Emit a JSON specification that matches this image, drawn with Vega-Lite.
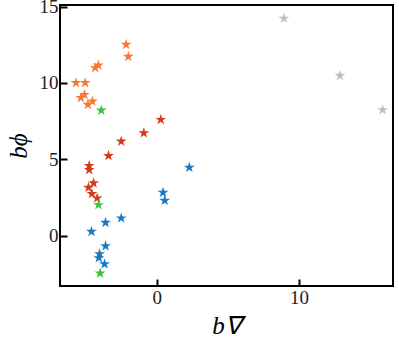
{
  "$schema": "https://vega.github.io/schema/vega-lite/v6.json",
  "width": 333,
  "height": 281,
  "autosize": {"type": "none"},
  "padding": {"left": 60, "top": 5, "right": 6, "bottom": 58},
  "background": "white",
  "config": {
    "view": {"stroke": "black", "strokeWidth": 2},
    "axis": {
      "grid": false,
      "domain": false,
      "labelFont": "Liberation Serif",
      "labelFontSize": 19,
      "labelColor": "#222",
      "titleFont": "Liberation Serif",
      "titleFontSize": 25,
      "titleFontStyle": "italic",
      "titleFontWeight": "normal",
      "titleColor": "black"
    }
  },
  "data": {
    "values": [
      {"x": -2.15, "y": 12.51, "g": "orange"},
      {"x": -2.0, "y": 11.72, "g": "orange"},
      {"x": -4.33, "y": 10.98, "g": "orange"},
      {"x": -4.1, "y": 11.15, "g": "orange"},
      {"x": -5.68, "y": 10.0, "g": "orange"},
      {"x": -5.03, "y": 10.0, "g": "orange"},
      {"x": -5.33, "y": 9.02, "g": "orange"},
      {"x": -5.08, "y": 9.23, "g": "orange"},
      {"x": -4.84, "y": 8.58, "g": "orange"},
      {"x": -4.52, "y": 8.79, "g": "orange"},
      {"x": 0.28, "y": 7.59, "g": "red"},
      {"x": -0.91, "y": 6.72, "g": "red"},
      {"x": -2.5, "y": 6.17, "g": "red"},
      {"x": -3.39, "y": 5.23, "g": "red"},
      {"x": -4.75, "y": 4.57, "g": "red"},
      {"x": -4.75, "y": 4.31, "g": "red"},
      {"x": -4.44, "y": 3.44, "g": "red"},
      {"x": -4.8, "y": 3.15, "g": "red"},
      {"x": -4.56, "y": 2.74, "g": "red"},
      {"x": -4.19, "y": 2.45, "g": "red"},
      {"x": 2.29, "y": 4.46, "g": "blue"},
      {"x": 0.44, "y": 2.82, "g": "blue"},
      {"x": 0.56, "y": 2.3, "g": "blue"},
      {"x": -2.5, "y": 1.14, "g": "blue"},
      {"x": -3.6, "y": 0.85, "g": "blue"},
      {"x": -4.59, "y": 0.26, "g": "blue"},
      {"x": -3.6, "y": -0.68, "g": "blue"},
      {"x": -4.02, "y": -1.2, "g": "blue"},
      {"x": -4.07, "y": -1.46, "g": "blue"},
      {"x": -3.67, "y": -1.86, "g": "blue"},
      {"x": -3.9, "y": 8.2, "g": "green"},
      {"x": -4.1, "y": 2.01, "g": "green"},
      {"x": -3.98, "y": -2.47, "g": "green"},
      {"x": 8.93, "y": 14.22, "g": "gray"},
      {"x": 12.87, "y": 10.48, "g": "gray"},
      {"x": 15.87, "y": 8.23, "g": "gray"}
    ]
  },
  "mark": {
    "type": "point",
    "filled": true,
    "size": 130,
    "opacity": 1,
    "shape": "M0,-1L0.2245,-0.309L0.951,-0.309L0.363,0.118L0.588,0.809L0,0.382L-0.588,0.809L-0.363,0.118L-0.951,-0.309L-0.2245,-0.309Z"
  },
  "encoding": {
    "x": {
      "field": "x", "type": "quantitative",
      "scale": {"domain": [-6.8, 16.6], "nice": false, "zero": false},
      "axis": {"values": [0, 10], "ticks": true, "tickSize": 7, "tickWidth": 2, "tickColor": "black", "offset": -7, "labelPadding": 2, "title": "b∇", "titlePadding": 6}
    },
    "y": {
      "field": "y", "type": "quantitative",
      "scale": {"domain": [-3.3, 15.1], "nice": false, "zero": false},
      "axis": {"values": [0, 5, 10, 15], "ticks": true, "tickSize": 7, "tickWidth": 2, "tickColor": "black", "offset": -7, "labelPadding": 2, "title": "bϕ", "titlePadding": 8}
    },
    "color": {
      "field": "g", "type": "nominal", "legend": null,
      "scale": {
        "domain": ["orange", "red", "blue", "green", "gray"],
        "range": ["#f57a35", "#d43b1b", "#1b79c1", "#3cc43c", "#c2bdbd"]
      }
    }
  }
}
